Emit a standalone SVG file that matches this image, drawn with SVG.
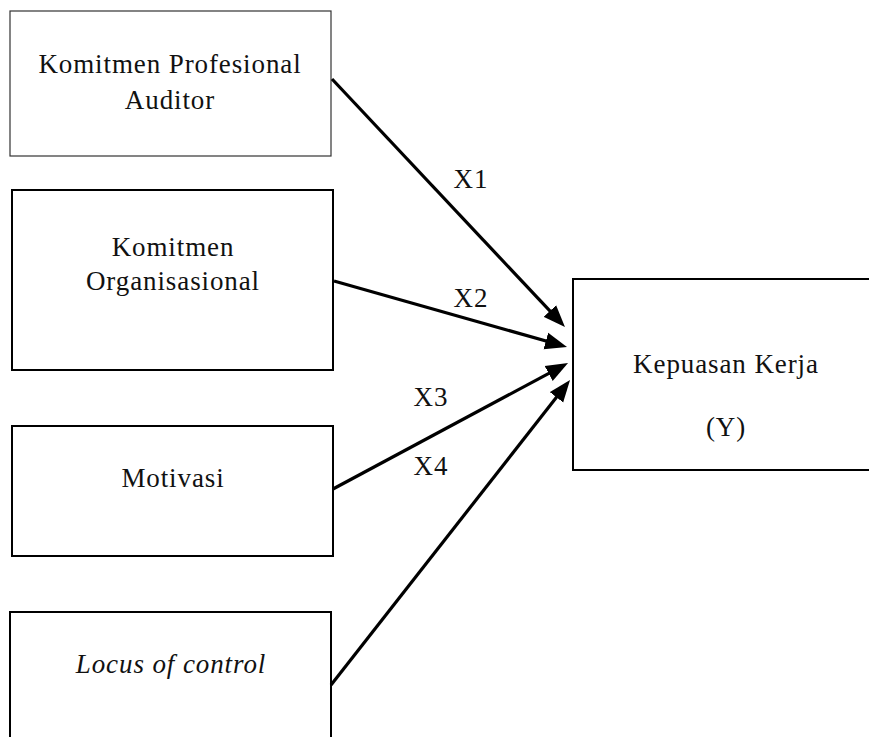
<svg xmlns="http://www.w3.org/2000/svg" width="869" height="737" viewBox="0 0 869 737">
<style>
.box{fill:#fff;stroke:#000;stroke-width:2}
.thin{stroke:#333;stroke-width:1.2}
.t{font-family:"Liberation Serif","Times New Roman",serif;font-size:27px;letter-spacing:0.9px;fill:#111;text-anchor:middle}
.i{font-style:italic}
.c{stroke:#000;stroke-width:3.2;fill:none;marker-end:url(#ah)}
</style>
<defs>
<marker id="ah" markerUnits="userSpaceOnUse" markerWidth="24" markerHeight="18" refX="14" refY="9" orient="auto" viewBox="0 0 24 18">
<path d="M0,0.5 L22,9 L0,17.5 z" fill="#000"/>
</marker>
</defs>
<rect width="869" height="737" fill="#fff"/>
<g id="n1">
<rect class="box thin" x="10" y="11" width="321" height="145"/>
<text class="t" x="170" y="73">Komitmen Profesional</text>
<text class="t" x="170" y="109">Auditor</text>
</g>
<g id="n2">
<rect class="box" x="12" y="190" width="321" height="180"/>
<text class="t" x="173" y="256">Komitmen</text>
<text class="t" x="173" y="290">Organisasional</text>
</g>
<g id="n3">
<rect class="box" x="12" y="426" width="321" height="130"/>
<text class="t" x="173" y="487">Motivasi</text>
</g>
<g id="n4">
<rect class="box" x="10" y="612" width="321" height="140"/>
<text class="t i" x="171" y="673">Locus of control</text>
</g>
<g id="ny">
<rect class="box" x="573" y="279" width="310" height="191"/>
<text class="t" x="726" y="373">Kepuasan Kerja</text>
<text class="t" x="726" y="436">(Y)</text>
</g>
<g id="connectors">
<line class="c" x1="332" y1="79" x2="559.5" y2="321.2"/>
<line class="c" x1="334" y1="281" x2="559.3" y2="344.8"/>
<line class="c" x1="333" y1="489" x2="561" y2="366.8"/>
<line class="c" x1="331" y1="685" x2="565.1" y2="386.3"/>
<text class="t" x="471" y="188">X1</text>
<text class="t" x="471" y="307">X2</text>
<text class="t" x="431" y="406">X3</text>
<text class="t" x="431" y="475">X4</text>
</g>
</svg>
